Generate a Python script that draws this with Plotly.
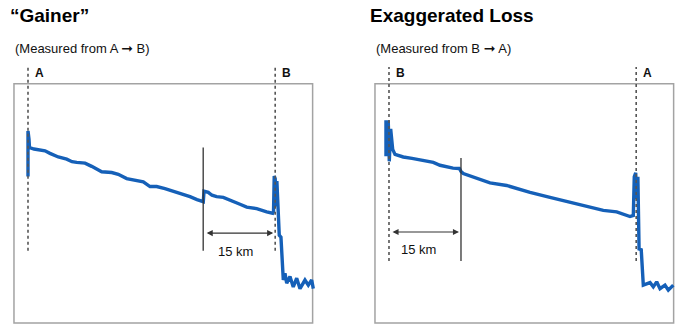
import plotly.graph_objects as go

# ---- data (distance in km, relative level in dB) ----
fiber_length_km = 51.5
marker_km = 15

gainer_km = [0.00, 0.00, 0.21, 0.31, 1.25, 2.50, 3.54, 4.58, 6.31, 8.06, 9.17, 10.15, 11.88,
             13.27, 15.35, 17.44, 18.81, 20.56, 22.29, 24.02, 25.42, 26.81, 28.54, 30.27,
             32.08, 33.75, 35.21, 36.52, 36.67, 37.56, 38.33, 39.31, 40.69, 42.77, 44.17,
             45.56, 47.65, 49.73, 50.98, 51.15, 51.30, 51.50, 51.70, 51.85, 52.05, 52.35,
             52.70, 53.00, 53.19, 53.54, 53.90, 54.58, 55.27, 55.98, 56.67, 57.71, 58.40,
             59.10, 59.44]
gainer_db = [36.3, 48.9, 46.6, 44.3, 43.9, 43.6, 43.4, 42.7, 41.7, 41.1, 40.4, 40.2, 40.0,
             39.1, 37.6, 37.4, 36.9, 35.7, 35.3, 34.8, 33.5, 33.5, 32.9, 32.2,
             31.4, 30.7, 29.9, 29.3, 32.2, 31.9, 31.1, 30.7, 30.5, 29.5, 28.6,
             27.8, 27.4, 26.5, 26.1, 26.5, 36.4, 35.7, 28.0, 35.0, 28.0, 20.0,
             19.5, 12.4, 7.6, 9.5, 6.7, 8.6, 5.7, 8.1, 5.2, 7.6, 6.2,
             7.6, 5.2]

loss_km = [-0.63, -0.63, -0.15, 0.06, 0.35, 0.77, 1.25, 2.98, 4.79, 6.46, 9.23, 10.63, 12.02,
           13.33, 14.65, 15.00, 15.48, 18.27, 21.04, 24.52, 26.60, 29.38, 33.54, 37.02,
           40.48, 44.65, 47.44, 50.21, 50.90, 51.10, 51.40, 51.60, 51.85, 52.10, 52.55,
           52.85, 52.98, 54.38, 55.06, 55.77, 56.46, 57.50, 58.19, 59.23]
loss_db = [41.9, 51.4, 51.4, 40.5, 49.5, 43.8, 42.4, 41.7, 41.3, 40.9, 40.2, 39.4, 38.9,
           38.6, 38.5, 37.7, 37.1, 35.7, 34.5, 33.8, 32.9, 31.9, 30.5, 29.3,
           28.1, 26.9, 26.5, 25.2, 25.5, 36.2, 37.3, 30.0, 36.2, 16.2, 16.0,
           7.6, 6.2, 6.9, 5.7, 7.1, 5.2, 6.2, 4.8, 6.2]

titles = ["\u201cGainer\u201d", "Exaggerated Loss"]
subtitles = [("(Measured from A ", "\u279e", " B)"), ("(Measured from B ", "\u279e", " A)")]
end_labels = [["A", "B"], ["B", "A"]]
span_label = "15 km"

# ---- styling ----
BLUE = "#1560b8"
GRAY = "#a3a3a3"
DARK = "#333333"
FONT = "Liberation Sans, Arial, sans-serif"

x_range = [-3.75, 60.42]
y_range = [-5.14, 68.57]
box_x = [-2.92, 59.3]
box_y = [-4.29, 62.0]
y_dom = [0.0091, 0.8176]

fig = go.Figure()
fig.add_trace(go.Scatter(x=gainer_km, y=gainer_db, mode="lines", xaxis="x", yaxis="y",
                         line=dict(color=BLUE, width=3.4), hoverinfo="skip"))
fig.add_trace(go.Scatter(x=loss_km, y=loss_db, mode="lines", xaxis="x2", yaxis="y2",
                         line=dict(color=BLUE, width=3.4), hoverinfo="skip"))

shapes = []
annotations = []
panels = [
    dict(xa="x", ya="y", marker=fiber_length_km - marker_km, arrow=(fiber_length_km - marker_km, fiber_length_km),
         dot_bottom=15.7, solid_top=44.3, arrow_y=20.6, text_x=43.3, text_y=15.4,
         title_x=0.0114, sub_x=0.0186),
    dict(xa="x2", ya="y2", marker=marker_km, arrow=(0, marker_km),
         dot_bottom=12.9, solid_top=41.4, arrow_y=20.9, text_x=6.2, text_y=16.0,
         title_x=0.5257, sub_x=0.5343),
]

for i, p in enumerate(panels):
    xa, ya = p["xa"], p["ya"]
    # frame
    shapes.append(dict(type="rect", xref=xa, yref=ya, x0=box_x[0], x1=box_x[1], y0=box_y[0], y1=box_y[1],
                       line=dict(color=GRAY, width=1.5), layer="below"))
    # dotted end markers
    for k, xk in enumerate([0, fiber_length_km]):
        shapes.append(dict(type="line", xref=xa, yref=ya, x0=xk, x1=xk, y0=p["dot_bottom"], y1=66.6,
                           line=dict(color="#555555", width=1.6, dash="dot"), layer="above"))
        annotations.append(dict(x=xk, y=64.9, xref=xa, yref=ya, text="<b>%s</b>" % end_labels[i][k],
                                showarrow=False, xanchor="left", xshift=5,
                                font=dict(family=FONT, size=12, color="#111111")))
    # solid 15 km marker
    shapes.append(dict(type="line", xref=xa, yref=ya, x0=p["marker"], x1=p["marker"],
                       y0=p["dot_bottom"], y1=p["solid_top"], line=dict(color=DARK, width=1.3), layer="above"))
    # double arrow
    a0, a1 = p["arrow"]
    annotations.append(dict(x=a1, y=p["arrow_y"], ax=a0, ay=p["arrow_y"], xref=xa, yref=ya,
                            axref=xa, ayref=ya, text="", showarrow=True, arrowhead=2, arrowsize=1.1,
                            arrowwidth=1.1, arrowcolor=DARK, arrowside="end+start",
                            standoff=2, startstandoff=2))
    annotations.append(dict(x=p["text_x"], y=p["text_y"], xref=xa, yref=ya, text=span_label,
                            showarrow=False, font=dict(family=FONT, size=13, color="#111111")))
    # titles
    annotations.append(dict(x=p["title_x"], y=0.954, xref="paper", yref="paper", text="<b>%s</b>" % titles[i],
                            showarrow=False, xanchor="left", yanchor="middle",
                            font=dict(family=FONT, size=19, color="#000000")))
    s0, arr, s1 = subtitles[i]
    annotations.append(dict(x=p["sub_x"], y=0.854, xref="paper", yref="paper",
                            text=s0 + "<span style='font-family:DejaVu Sans;font-size:14px'>" + arr + "</span>" + s1,
                            showarrow=False, xanchor="left", yanchor="middle",
                            font=dict(family=FONT, size=13, color="#111111")))

axis_common = dict(visible=False, showgrid=False, zeroline=False, fixedrange=True)
fig.update_layout(
    width=700, height=329, margin=dict(l=0, r=0, t=0, b=0),
    paper_bgcolor="white", plot_bgcolor="rgba(0,0,0,0)", showlegend=False,
    xaxis=dict(domain=[10 / 700, 318 / 700], range=x_range, **axis_common),
    yaxis=dict(domain=y_dom, range=y_range, **axis_common),
    xaxis2=dict(domain=[372 / 700, 678 / 700], range=[-3.54, 60.21], anchor="y2", **axis_common),
    yaxis2=dict(domain=y_dom, range=y_range, anchor="x2", **axis_common),
    shapes=shapes, annotations=annotations,
)

fig.write_html("out.html")
